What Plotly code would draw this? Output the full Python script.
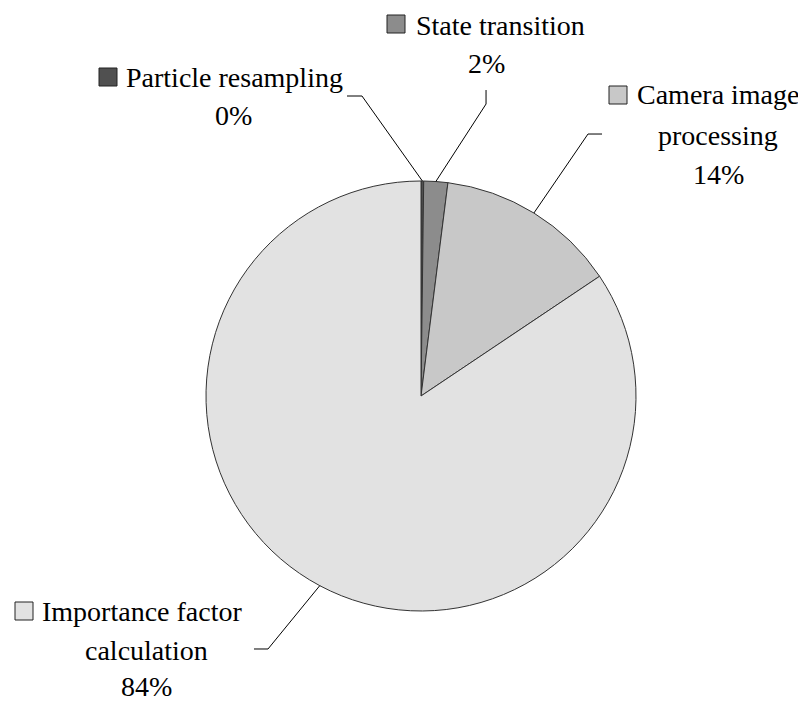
import math
import plotly.graph_objects as go

# datos
etiquetas = ["Particle resampling", "State transition", "Camera image processing",
             "Importance factor calculation"]
valores = [0.2, 1.8, 13.6, 84.4]
colores = ["#505050", "#8c8c8c", "#c8c8c8", "#e2e2e2"]
lineas_texto = [["Particle resampling"], ["State transition"],
                ["Camera image", "processing"], ["Importance factor", "calculation"]]

W, H = 806, 704
OFF = 8                            # margen del body en la pagina
cx, cy, r = 421, 396, 215          # centro y radio del pie (pixeles de pantalla)
fuente = "Liberation Serif"
fs = 28

# posiciones de las etiquetas (pixeles): cuadro, primera linea, lineas centradas, codo de la linea guia
pos = [
    dict(cuadro=(99, 68), x1=124, y1=77, xc=233, ys=[115], codo=[(347, 96), (362, 96)]),
    dict(cuadro=(387, 15), x1=414, y1=25, xc=486, ys=[63], codo=[(486, 90), (486, 104)]),
    dict(cuadro=(609, 86), x1=635, y1=95, xc=718, ys=[135, 175], codo=[(602, 134), (588, 134)]),
    dict(cuadro=(15, 602), x1=40, y1=611, xc=146, ys=[650, 686], codo=[(254, 649), (268, 649)]),
]

def px(x, y):
    return (x - OFF) / W, 1 - (y - OFF) / H

dx0, dy1 = px(cx - r, cy - r)
dx1, dy0 = px(cx + r, cy + r)
fig = go.Figure(go.Pie(
    labels=etiquetas, values=valores, sort=False, direction="clockwise", rotation=0,
    marker=dict(colors=colores, line=dict(color="#333333", width=1)),
    textinfo="none", hoverinfo="label+percent", showlegend=False,
    domain=dict(x=[dx0, dx1], y=[dy0, dy1]),
))

total = sum(valores)
acum = 0
shapes, annots = [], []
for i, v in enumerate(valores):
    medio = (acum + v / 2) / total * 2 * math.pi
    acum += v
    x0, y0 = cx + r * math.sin(medio), cy - r * math.cos(medio)
    p = pos[i]
    # linea guia: borde del pie -> codo -> etiqueta
    c = p["codo"]
    if math.dist(c[1], (x0, y0)) < math.dist(c[0], (x0, y0)):
        c = c[::-1]
    pts = [(x0, y0)] + c
    path = "M " + " L ".join("%.4f,%.4f" % px(a, b) for a, b in pts)
    shapes.append(dict(type="path", path=path, xref="paper", yref="paper",
                       line=dict(color="#000000", width=1)))
    # cuadro de color
    qx, qy = p["cuadro"]
    a0, b0 = px(qx, qy)
    a1, b1 = px(qx + 18, qy + 18)
    shapes.append(dict(type="rect", xref="paper", yref="paper", x0=a0, y0=b1, x1=a1, y1=b0,
                       fillcolor=colores[i], line=dict(color="#222222", width=1)))
    tx, ty = px(p["x1"], p["y1"])
    annots.append(dict(text=lineas_texto[i][0], x=tx, y=ty, xref="paper", yref="paper",
                       xanchor="left", yanchor="middle", showarrow=False,
                       font=dict(family=fuente, size=fs, color="#000000")))
    resto = lineas_texto[i][1:] + ["%d%%" % round(v / total * 100)]
    for texto, yy in zip(resto, p["ys"]):
        tx, ty = px(p["xc"], yy)
        annots.append(dict(text=texto, x=tx, y=ty, xref="paper", yref="paper",
                           xanchor="center", yanchor="middle", showarrow=False,
                           font=dict(family=fuente, size=fs, color="#000000")))

fig.update_layout(width=W, height=H, margin=dict(l=0, r=0, t=0, b=0),
                  paper_bgcolor="white", plot_bgcolor="white",
                  shapes=shapes, annotations=annots)
fig.write_html("out.html")
